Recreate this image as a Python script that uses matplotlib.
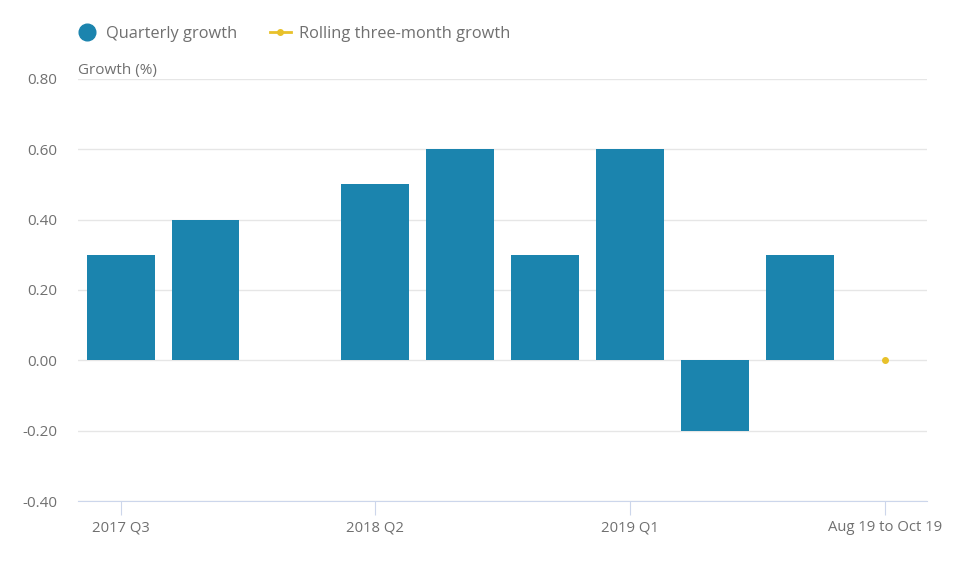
import matplotlib.pyplot as plt
from matplotlib.lines import Line2D
import numpy as np

plt.rcParams['font.family'] = ['Open Sans', 'DejaVu Sans']

categories = ["2017 Q3", "2017 Q4", "2018 Q1", "2018 Q2", "2018 Q3", "2018 Q4",
              "2019 Q1", "2019 Q2", "2019 Q3", "Aug 19 to Oct 19"]
quarterly = [0.3, 0.4, np.nan, 0.5, 0.6, 0.3, 0.6, -0.2, 0.3, np.nan]
rolling = [np.nan] * 9 + [0.0]
shown_ticks = ["2017 Q3", "2018 Q2", "2019 Q1", "Aug 19 to Oct 19"]

bar_color = '#1b84ae'
line_color = '#e8c12a'
text_color = '#707070'

fig = plt.figure(figsize=(9.59, 5.67), dpi=100)
ax = fig.add_axes([0.0815, 0.1164, 0.8853, 0.7443])

x = np.arange(len(categories))
ax.bar(x, quarterly, width=0.8, color=bar_color, zorder=2)
ax.plot(x, rolling, color=line_color, marker='o', markersize=4, lw=2, zorder=3)

ax.set_xlim(-0.5, len(categories) - 0.5)
ax.set_ylim(-0.4, 0.8)
ax.set_yticks(np.arange(-0.4, 0.81, 0.2))
ax.set_yticklabels([f"{v:.2f}" for v in np.arange(-0.4, 0.81, 0.2)])
ax.grid(axis='y', color='#e6e6e6', lw=1, zorder=0)

tick_pos = [categories.index(c) for c in shown_ticks]
ax.set_xticks(tick_pos)
ax.set_xticklabels(shown_ticks)

for s in ['top', 'right', 'left']:
    ax.spines[s].set_visible(False)
ax.spines['bottom'].set_color('#ccd6eb')
ax.tick_params(axis='x', colors='#ccd6eb', length=10, labelcolor=text_color,
               labelsize=10.7, pad=4)
ax.tick_params(axis='y', length=0, labelcolor=text_color, labelsize=11, pad=15)

fig.text(0.0813, 0.862, "Growth (%)", color=text_color, fontsize=11, va='bottom')

handles = [
    Line2D([], [], marker='o', color='none', markerfacecolor=bar_color,
           markeredgecolor=bar_color, markersize=12),
    Line2D([], [], marker='o', color=line_color, markersize=4, lw=2),
]
fig.legend(handles, ["Quarterly growth", "Rolling three-month growth"],
           loc='upper left', bbox_to_anchor=(0.064, 0.98), ncol=2, frameon=False,
           fontsize=11.8, labelcolor=text_color, handlelength=1.3,
           handletextpad=0.5, columnspacing=2.0)

fig.savefig("out.png", dpi=100)
